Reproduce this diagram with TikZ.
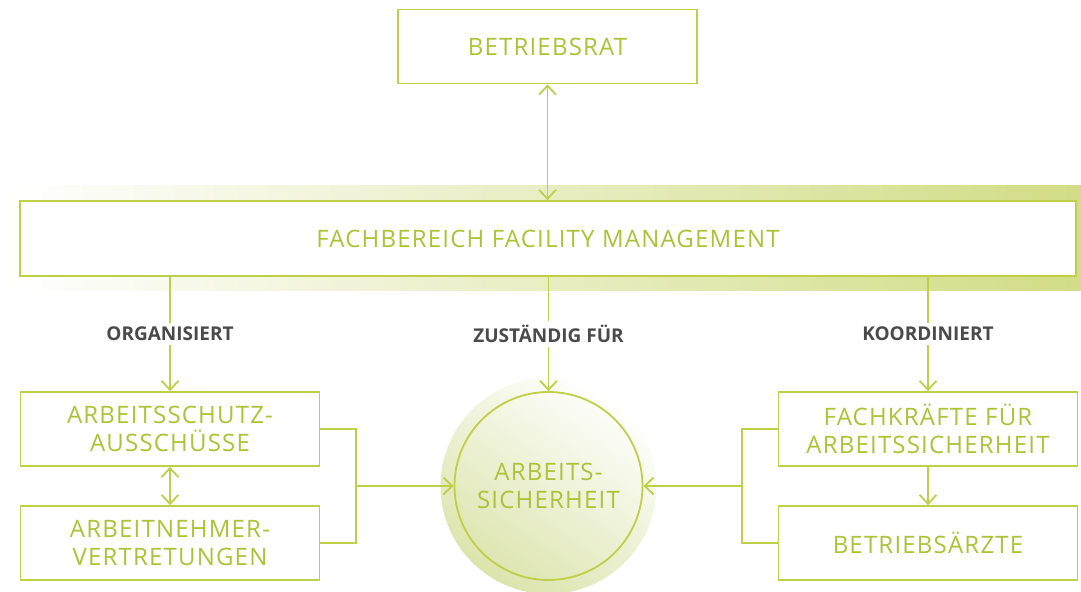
\documentclass[tikz,border=0pt]{standalone}
\usepackage{fontspec}
\setmainfont{Open Sans}
\newfontfamily\boxfont[LetterSpace=5]{Open Sans}
\usetikzlibrary{arrows.meta,positioning}
\definecolor{fmgreen}{HTML}{ADC235}
\definecolor{fmline}{HTML}{C0CF48}
\definecolor{fmband}{HTML}{D3DC86}
\definecolor{fmglow}{HTML}{DCE4AC}
\definecolor{fmgray}{HTML}{4A4A4A}

\begin{document}
\begin{tikzpicture}
[x=0.5pt,y=-0.5pt,
every node/.style={font=\boxfont\fontsize{12}{14.4}\selectfont,text=fmgreen,align=center},
orgbox/.style={draw=fmline,line width=0.9pt,fill=white,minimum width=149.5pt,minimum height=37pt,inner sep=0pt},
lbl/.style={fill=white,text=fmgray,font=\bfseries\fontsize{9.5}{11}\selectfont,inner sep=2pt},
link/.style={draw=fmline,line width=0.9pt},
tip/.style={link,-{Straight Barb[length=4.5pt,width=8.5pt]}},
]
\useasboundingbox (0,0) rectangle (1081,592);
% hintergrund
\shade[left color=white,right color=fmband] (5,186) rectangle (1081,291);
\shade[top color=white,bottom color=fmglow,shading angle=-35] (548.5,486) circle (108);

\node[orgbox] (rat) at (547.5,46.5) {BETRIEBSRAT};
\node[orgbox,minimum width=528pt,minimum height=37.5pt] (fm) at (548,238.5) {FACHBEREICH FACILITY MANAGEMENT};
\node[orgbox] (asa) at (170,429) {ARBEITSSCHUTZ-\\AUSSCHÜSSE};
\node[orgbox] (anv) at (170,543) {ARBEITNEHMER-\\VERTRETUNGEN};
\node[orgbox] (fas) at (928,429) {FACHKRÄFTE FÜR\\ARBEITSSICHERHEIT};
\node[orgbox] (baz) at (928,543) {BETRIEBSÄRZTE};
\node[circle,draw=fmline,line width=0.9pt,minimum size=94pt,inner sep=0pt] (as) at (548.5,486) {ARBEITS-\\SICHERHEIT};

\coordinate (jl) at (356,486);
\coordinate (jr) at (742,486);

\draw[tip,{Straight Barb[length=4.5pt,width=8.5pt]}-{Straight Barb[length=4.5pt,width=8.5pt]}] (rat) -- (fm.north -| rat);
\draw[tip] (fm.south -| asa) -- node[lbl]{ORGANISIERT} (asa);
\draw[tip] (fm.south -| as) -- node[lbl]{ZUSTÄNDIG FÜR} (as);
\draw[tip] (fm.south -| fas) -- node[lbl]{KOORDINIERT} (fas);
\draw[tip,{Straight Barb[length=4.5pt,width=8.5pt]}-{Straight Barb[length=4.5pt,width=8.5pt]}] (asa) -- (anv);
\draw[tip] (fas) -- (baz);
\draw[link] (asa.east) -| (jl) |- (anv.east);
\draw[tip] (jl) -- (as);
\draw[link] (fas.west) -| (jr) |- (baz.west);
\draw[tip] (jr) -- (as);
\end{tikzpicture}
\end{document}
